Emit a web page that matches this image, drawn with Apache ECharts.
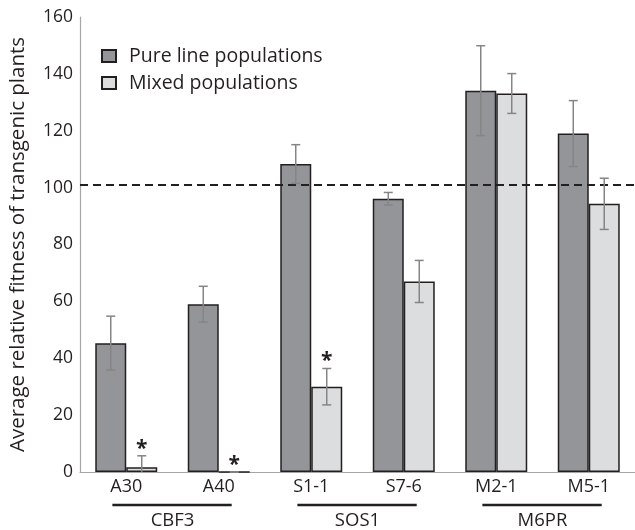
<!DOCTYPE html>
<html>
<head>
<meta charset="utf-8">
<script src="https://cdn.jsdelivr.net/npm/echarts@6/dist/echarts.min.js"></script>
<style>html,body{margin:0;padding:0;background:#fff;}#c{width:635px;height:530px;}</style>
</head>
<body>
<div id="c"></div>
<script>
const categories = ['A30', 'A40', 'S1-1', 'S7-6', 'M2-1', 'M5-1'];
const groups = ['CBF3', 'SOS1', 'M6PR'];
const pureValues = [45.3, 59.0, 108.3, 96.1, 134.1, 119.0];
const pureErrors = [9.5, 6.3, 6.8, 2.2, 15.8, 11.6];
const mixedValues = [1.7, 0, 30.0, 67.0, 133.1, 94.3];
const mixedErrors = [4.0, 0, 6.4, 7.4, 7.0, 9.0];
const mixedSignificant = [1, 1, 1, 0, 0, 0];
const referenceLevel = 101;
const yTicks = { min: 0, max: 160, interval: 20 };

const FONT = 'Open Sans';
const TXT = '#231f20';
const GAP = 0.33;

function errRenderer(sign) {
  return function (params, api) {
    const i = api.value(0), v = api.value(1), e = api.value(2), sig = api.value(3);
    const band = api.size([1, 0])[0];
    const off = sign * band * (1 - GAP) / 4;
    const low = v - e;
    const clamped = low < 0;
    const t = api.coord([i, v + e]);
    const b = api.coord([i, clamped ? 0 : low]);
    const x = t[0] + off;
    const cap = 4.5;
    const st = { stroke: '#858585', lineWidth: 1.5 };
    const children = [
      { type: 'line', shape: { x1: x, y1: t[1], x2: x, y2: b[1] }, style: st },
      { type: 'line', shape: { x1: x - cap, y1: t[1], x2: x + cap, y2: t[1] }, style: st }
    ];
    if (!clamped) {
      children.push({ type: 'line', shape: { x1: x - cap, y1: b[1], x2: x + cap, y2: b[1] }, style: st });
    }
    if (sig) {
      children.push({ type: 'text', x: x, y: t[1] - 7, style: { text: '*', fill: TXT, font: 'bold 21px ' + FONT, align: 'center', verticalAlign: 'middle' } });
    }
    return { type: 'group', children: children };
  };
}

const chart = echarts.init(document.getElementById('c'), null, { renderer: 'canvas' });
chart.setOption({
  animation: false,
  backgroundColor: '#fff',
  textStyle: { fontFamily: FONT, color: TXT },
  grid: { left: 79, top: 17, width: 562, height: 456, containLabel: false },
  legend: {
    orient: 'vertical', left: 96, top: 41, itemWidth: 14, itemHeight: 12, itemGap: 7,
    icon: 'rect',
    textStyle: { fontSize: 19.5, color: TXT, fontFamily: FONT, padding: [0, 0, 0, 8] },
    data: ['Pure line populations', 'Mixed populations']
  },
  xAxis: [
    {
      type: 'category', data: categories, position: 'bottom',
      axisLine: { lineStyle: { color: '#a6a6a6', width: 1.2 } },
      axisTick: { show: false },
      axisLabel: { fontSize: 18, color: TXT, fontFamily: FONT, margin: 6 }
    },
    {
      type: 'category', data: groups, position: 'bottom',
      axisLine: { show: false }, axisTick: { show: false },
      axisLabel: { fontSize: 18.5, color: TXT, fontFamily: FONT, margin: 39 }
    }
  ],
  yAxis: {
    type: 'value', min: yTicks.min, max: yTicks.max, interval: yTicks.interval,
    name: 'Average relative fitness of transgenic plants',
    nameLocation: 'middle', nameGap: 51,
    nameTextStyle: { fontSize: 20.5, color: TXT, fontFamily: FONT },
    axisLine: { show: true, lineStyle: { color: '#a6a6a6', width: 1.2 } },
    axisTick: { show: false },
    splitLine: { show: false },
    axisLabel: { fontSize: 17.5, color: TXT, fontFamily: FONT, margin: 7 }
  },
  series: [
    {
      name: 'Pure line populations', type: 'bar', data: pureValues,
      barCategoryGap: '33%', barGap: '0%',
      itemStyle: { color: '#939598', borderColor: '#231f20', borderWidth: 1.5 },
      markLine: {
        silent: true, symbol: 'none', label: { show: false },
        lineStyle: { color: '#231f20', type: [8, 5], width: 2 },
        data: [{ yAxis: referenceLevel }]
      }
    },
    {
      name: 'Mixed populations', type: 'bar', data: mixedValues,
      barCategoryGap: '33%', barGap: '0%',
      itemStyle: { color: '#dcdddf', borderColor: '#231f20', borderWidth: 1.5 }
    },
    {
      type: 'custom', renderItem: errRenderer(-1), z: 5,
      data: pureValues.map((v, i) => [i, v, pureErrors[i], 0])
    },
    {
      type: 'custom', renderItem: errRenderer(1), z: 5,
      data: mixedValues.map((v, i) => [i, v, mixedErrors[i], mixedSignificant[i]])
    },
    {
      type: 'custom', xAxisIndex: 1, z: 5,
      renderItem: function (params, api) {
        const c = api.coord([api.value(0), 0]);
        const band = api.size([1, 0])[0];
        return { type: 'line', shape: { x1: c[0] - band * 0.325, y1: c[1] + 33, x2: c[0] + band * 0.32, y2: c[1] + 33 }, style: { stroke: '#231f20', lineWidth: 2.5 } };
      },
      data: groups.map((g, i) => [i])
    }
  ]
});
</script>
</body>
</html>
